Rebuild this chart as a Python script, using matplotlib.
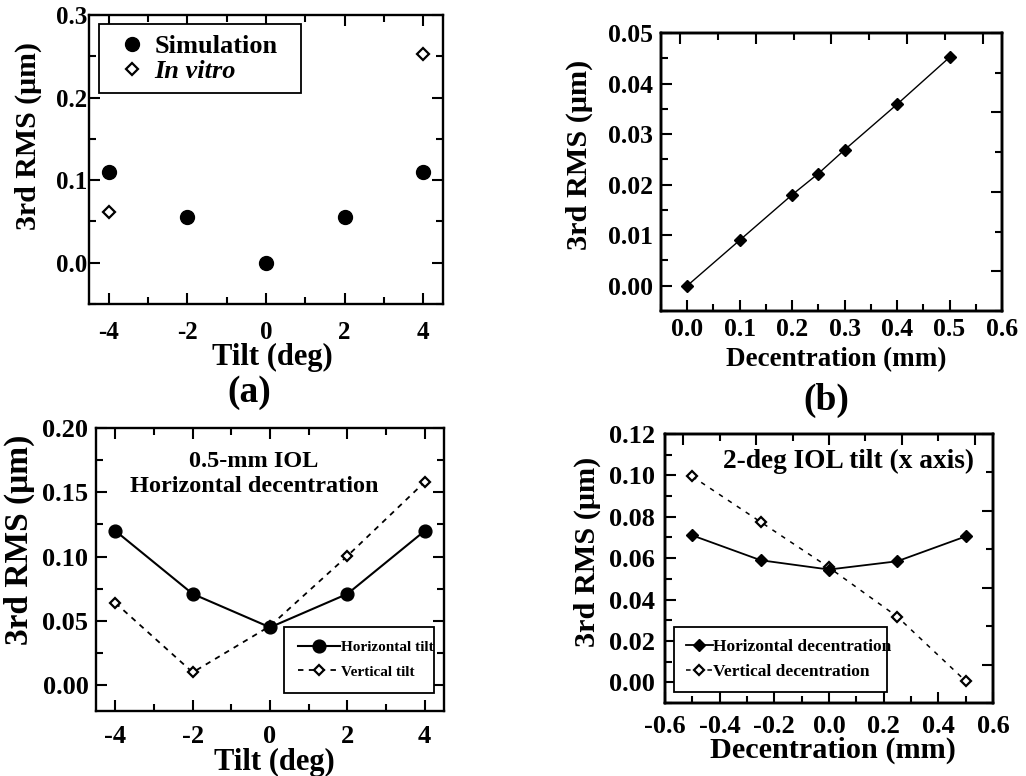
import matplotlib
matplotlib.use('Agg')
import matplotlib.pyplot as plt
from matplotlib.ticker import MultipleLocator, FormatStrFormatter

plt.rcParams['font.family'] = ['Liberation Serif', 'DejaVu Serif']
plt.rcParams['font.weight'] = 'bold'
plt.rcParams['axes.labelweight'] = 'bold'
plt.rcParams['axes.unicode_minus'] = False

# ---------------- data ----------------
# (a)
tilt_a = [-4, -2, 0, 2, 4]
sim_a = [0.110, 0.055, 0.0, 0.055, 0.110]
vitro_tilt_a = [-4, 4]
vitro_a = [0.061, 0.253]

# (b)
dec_b = [0.0, 0.1, 0.2, 0.25, 0.3, 0.4, 0.5]
rms_b = [0.0, 0.009, 0.018, 0.0222, 0.0269, 0.0359, 0.0452]

# (c)
tilt_c = [-4, -2, 0, 2, 4]
htilt_c = [0.120, 0.071, 0.045, 0.071, 0.120]
vtilt_c = [0.064, 0.010, 0.046, 0.1005, 0.158]

# (d)
dec_d = [-0.5, -0.25, 0.0, 0.25, 0.5]
hdec_d = [0.071, 0.059, 0.0545, 0.0585, 0.0705]
vdec_d = [0.0995, 0.0775, 0.0555, 0.0317, 0.0006]

ylab = '3rd RMS (μm)'

fig = plt.figure(figsize=(10.26, 7.76), dpi=100)

ax_a = fig.add_axes([0.0867, 0.6082, 0.3450, 0.3724])
ax_b = fig.add_axes([0.6442, 0.5992, 0.3324, 0.3582])
ax_c = fig.add_axes([0.0936, 0.0838, 0.3392, 0.3647])
ax_d = fig.add_axes([0.6481, 0.0941, 0.3197, 0.3466])


def style(ax, fs, xpad, ypad, mirror=True):
    for s in ax.spines.values():
        s.set_linewidth(1.7)
    ax.tick_params(which='both', direction='in', width=1.5,
                   top=mirror, right=mirror, labelsize=fs)
    ax.tick_params(which='major', length=8)
    ax.tick_params(which='minor', length=4.7)
    ax.tick_params(axis='x', which='both', pad=xpad)
    ax.tick_params(axis='y', which='both', pad=ypad)


def twin_ticks(ax):
    # top and right axes carry their own (different) tick scales
    axt = ax.twiny()
    axt.set_xlim(-0.25, 4.25)
    axt.xaxis.set_major_locator(MultipleLocator(1))
    axt.xaxis.set_minor_locator(MultipleLocator(0.5))
    axt.tick_params(axis='x', which='both', direction='in', width=1.5,
                    labeltop=False, top=True)
    axt.tick_params(axis='x', which='major', length=8)
    axt.tick_params(axis='x', which='minor', length=4.7)
    axr = ax.twinx()
    axr.set_ylim(-0.5, 3.0)
    axr.yaxis.set_major_locator(MultipleLocator(1))
    axr.yaxis.set_minor_locator(MultipleLocator(0.5))
    axr.tick_params(axis='y', which='both', direction='in', width=1.5,
                    labelright=False, right=True)
    axr.tick_params(axis='y', which='major', length=8)
    axr.tick_params(axis='y', which='minor', length=4.7)
    for a in (axt, axr):
        for s in a.spines.values():
            s.set_linewidth(1.7)


# ---------------- (a) ----------------
ax = ax_a
ax.plot(tilt_a, sim_a, linestyle='none', marker='o', ms=10, color='black',
        label='Simulation', zorder=3)
ax.plot(vitro_tilt_a, vitro_a, linestyle='none', marker='D', ms=5.8,
        mfc='white', mec='black', mew=1.6, label='In vitro', zorder=3)
ax.set_xlim(-4.5, 4.5)
ax.set_ylim(-0.05, 0.3)
ax.xaxis.set_major_locator(MultipleLocator(2))
ax.xaxis.set_minor_locator(MultipleLocator(1))
ax.yaxis.set_major_locator(MultipleLocator(0.1))
ax.yaxis.set_minor_locator(MultipleLocator(0.05))
ax.yaxis.set_major_formatter(FormatStrFormatter('%.1f'))
ax.xaxis.set_major_formatter(FormatStrFormatter('%d'))
style(ax, 18, 12.5, 1.3)
ax.set_xlabel('Tilt (deg)', fontsize=22)
ax.set_ylabel(ylab, fontsize=21.5)
ax.xaxis.set_label_coords(0.517, -0.136)
ax.yaxis.set_label_coords(-0.133, 0.581)
leg = ax.legend(loc='upper left', bbox_to_anchor=(0.028, 0.713, 0.571, 0.256),
                mode='expand', borderaxespad=0, fancybox=False, frameon=True,
                edgecolor='black', framealpha=1, fontsize=19, borderpad=0.4,
                labelspacing=0.05, handlelength=1.7, handletextpad=0.0)
leg.get_frame().set_linewidth(1.3)
leg.get_texts()[1].set_fontstyle('italic')
fig.text(0.2432, 0.4823, '(a)', fontsize=27, ha='center', va='baseline')

# ---------------- (b) ----------------
ax = ax_b
ax.plot(dec_b, rms_b, color='black', lw=1.0, marker='D', ms=6.3, zorder=3)
ax.set_xlim(-0.05, 0.6)
ax.set_ylim(-0.005, 0.05)
ax.xaxis.set_major_locator(MultipleLocator(0.1))
ax.xaxis.set_minor_locator(MultipleLocator(0.05))
ax.yaxis.set_major_locator(MultipleLocator(0.01))
ax.yaxis.set_minor_locator(MultipleLocator(0.005))
ax.yaxis.set_major_formatter(FormatStrFormatter('%.2f'))
ax.xaxis.set_major_formatter(FormatStrFormatter('%.1f'))
style(ax, 18.5, 5, 5.5, mirror=False)
ax.set_xlabel('Decentration (mm)', fontsize=19.5)
ax.set_ylabel(ylab, fontsize=21.8)
ax.xaxis.set_label_coords(0.513, -0.129)
ax.yaxis.set_label_coords(-0.199, 0.561)
twin_ticks(ax)
fig.text(0.8057, 0.4716, '(b)', fontsize=27, ha='center', va='baseline')

# ---------------- (c) ----------------
ax = ax_c
hv, = ax.plot(tilt_c, vtilt_c, color='black', lw=1.3, ls=(0, (3, 3)),
              marker='D', ms=5.5, mfc='white', mec='black', mew=1.6, zorder=2)
hh, = ax.plot(tilt_c, htilt_c, color='black', lw=1.5, marker='o', ms=9.2,
              zorder=3)
ax.set_xlim(-4.5, 4.5)
ax.set_ylim(-0.02, 0.2)
ax.xaxis.set_major_locator(MultipleLocator(2))
ax.xaxis.set_minor_locator(MultipleLocator(1))
ax.yaxis.set_major_locator(MultipleLocator(0.05))
ax.yaxis.set_minor_locator(MultipleLocator(0.025))
ax.yaxis.set_major_formatter(FormatStrFormatter('%.2f'))
ax.xaxis.set_major_formatter(FormatStrFormatter('%d'))
style(ax, 19, 10, 5.5)
ax.set_xlabel('Tilt (deg)', fontsize=22)
ax.set_ylabel(ylab, fontsize=24)
ax.xaxis.set_label_coords(0.512, -0.132)
ax.yaxis.set_label_coords(-0.175, 0.606)
ax.text(0.454, 0.863, '0.5-mm IOL', transform=ax.transAxes, fontsize=17.5,
        ha='center', va='baseline')
ax.text(0.454, 0.775, 'Horizontal decentration', transform=ax.transAxes,
        fontsize=17.5, ha='center', va='baseline')
leg = ax.legend([hh, hv], ['Horizontal tilt', 'Vertical tilt'],
                loc='upper left', bbox_to_anchor=(0.540, 0.049, 0.431, 0.248),
                mode='expand', borderaxespad=0, fancybox=False, frameon=True,
                edgecolor='black', framealpha=1, fontsize=11, borderpad=0.9,
                labelspacing=0.7, handlelength=2.75, handletextpad=0.1,
                numpoints=1)
leg.get_frame().set_linewidth(1.3)

# ---------------- (d) ----------------
ax = ax_d
hv, = ax.plot(dec_d, vdec_d, color='black', lw=1.1, ls=(0, (3, 4)),
              marker='D', ms=5.5, mfc='white', mec='black', mew=1.6, zorder=2)
hh, = ax.plot(dec_d, hdec_d, color='black', lw=1.3, marker='D', ms=6.3,
              zorder=3)
ax.set_xlim(-0.6, 0.6)
ax.set_ylim(-0.01, 0.12)
ax.xaxis.set_major_locator(MultipleLocator(0.2))
ax.xaxis.set_minor_locator(MultipleLocator(0.1))
ax.yaxis.set_major_locator(MultipleLocator(0.02))
ax.yaxis.set_minor_locator(MultipleLocator(0.01))
ax.yaxis.set_major_formatter(FormatStrFormatter('%.2f'))
ax.xaxis.set_major_formatter(FormatStrFormatter('%.1f'))
style(ax, 19, 9, 7.4, mirror=False)
ax.set_xlabel('Decentration (mm)', fontsize=21.8)
ax.set_ylabel(ylab, fontsize=21.8)
ax.xaxis.set_label_coords(0.512, -0.126)
ax.yaxis.set_label_coords(-0.195, 0.561)
ax.text(0.561, 0.874, '2-deg IOL tilt (x axis)', transform=ax.transAxes,
        fontsize=19.7, ha='center', va='baseline')
leg = ax.legend([hh, hv], ['Horizontal decentration', 'Vertical decentration'],
                loc='upper left', bbox_to_anchor=(0.027, 0.033, 0.650, 0.250),
                mode='expand', borderaxespad=0, fancybox=False, frameon=True,
                edgecolor='black', framealpha=1, fontsize=12.5, borderpad=0.7,
                labelspacing=0.5, handlelength=1.53, handletextpad=0.0,
                numpoints=1)
leg.get_frame().set_linewidth(1.3)
twin_ticks(ax)

fig.savefig('out.png', dpi=100)
